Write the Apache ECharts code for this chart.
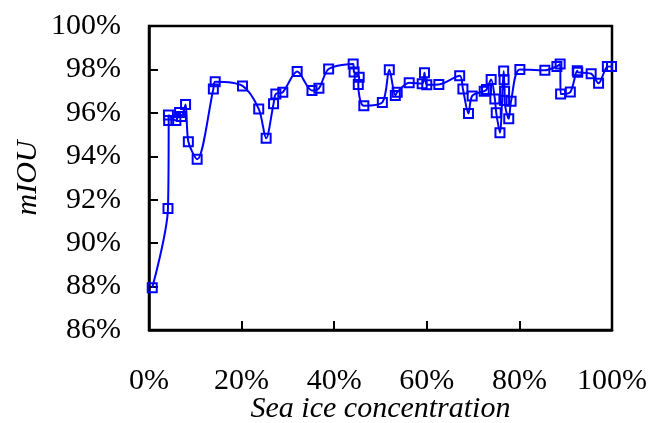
<!DOCTYPE html>
<html>
<head>
<meta charset="utf-8">
<script src="https://cdn.jsdelivr.net/npm/echarts@6/dist/echarts.min.js"></script>
<style>html,body{margin:0;padding:0;background:#fff;}#c{width:652px;height:423px;}</style>
</head>
<body>
<div id="c"></div>
<script>
const xValues = [0.7, 4.1, 4.25, 4.2, 5.8, 6.6, 7.0, 7.9, 8.5, 10.4, 13.9, 14.3, 20.2, 23.7, 25.3, 26.9, 27.4, 28.9, 32.0, 35.2, 36.7, 38.8, 44.1, 44.3, 45.4, 45.2, 46.4, 50.4, 51.9, 53.2, 53.6, 56.2, 59.0, 59.5, 60.0, 62.6, 67.1, 67.8, 69.0, 69.8, 72.4, 72.9, 73.9, 74.7, 75.0, 75.8, 76.6, 76.7, 76.8, 76.8, 77.7, 78.2, 80.1, 85.5, 88.1, 88.8, 88.9, 91.0, 92.5, 92.6, 95.5, 97.1, 99.0, 99.9];
const mIOU = [87.95, 91.6, 95.65, 95.9, 95.65, 96.02, 95.83, 96.38, 94.67, 93.86, 97.1, 97.43, 97.24, 96.18, 94.83, 96.42, 96.87, 96.95, 97.9, 97.03, 97.13, 98.02, 98.25, 97.88, 97.64, 97.31, 96.33, 96.48, 97.99, 96.8, 96.95, 97.39, 97.34, 97.85, 97.3, 97.31, 97.71, 97.1, 95.97, 96.78, 97.0, 97.08, 97.54, 96.64, 96.0, 95.08, 97.93, 97.53, 97.0, 96.57, 95.73, 96.54, 98.0, 97.96, 98.14, 98.25, 96.87, 96.96, 97.94, 97.87, 97.8, 97.36, 98.13, 98.14];
const xTicks = [0, 20, 40, 60, 80, 100];
const yTicks = [86, 88, 90, 92, 94, 96, 98, 100];

const font = 'Liberation Serif';
const chart = echarts.init(document.getElementById('c'));
chart.setOption({
  animation: false,
  backgroundColor: '#fff',
  grid: { left: 149, right: 40, top: 26, bottom: 93, outerBoundsMode: 'none', containLabel: false, show: true, borderColor: '#000', borderWidth: 2.5, backgroundColor: 'transparent' },
  xAxis: {
    type: 'value', min: xTicks[0], max: xTicks[xTicks.length - 1], interval: 20,
    name: 'Sea ice concentration', nameLocation: 'middle', nameGap: 64, nameMoveOverlap: false,
    nameTextStyle: { fontFamily: font, fontStyle: 'italic', fontSize: 30, color: '#000' },
    axisLine: { lineStyle: { color: '#000', width: 2.5 } },
    axisTick: { inside: true, length: 9, lineStyle: { color: '#000', width: 2 } },
    axisLabel: { formatter: '{value}%', fontFamily: font, fontSize: 30, color: '#000', margin: 36 },
    splitLine: { show: false }
  },
  yAxis: {
    type: 'value', min: yTicks[0], max: yTicks[yTicks.length - 1], interval: 2,
    name: 'mIOU', nameLocation: 'middle', nameGap: 106, nameRotate: 90, nameMoveOverlap: false,
    nameTextStyle: { fontFamily: font, fontStyle: 'italic', fontSize: 30, color: '#000' },
    axisLine: { lineStyle: { color: '#000', width: 2.5 } },
    axisTick: { inside: true, length: 9, lineStyle: { color: '#000', width: 2 } },
    axisLabel: { formatter: '{value}%', fontFamily: font, fontSize: 30, color: '#000', margin: 28 },
    splitLine: { show: false }
  },
  series: [{
    type: 'line',
    data: xValues.map((x, i) => [x, mIOU[i]]),
    smooth: 0.3,
    symbol: 'rect',
    symbolSize: 9,
    lineStyle: { color: '#0000ff', width: 2 },
    itemStyle: { color: 'rgba(255,255,255,0)', borderColor: '#0000ff', borderWidth: 2 }
  }]
});
</script>
</body>
</html>
